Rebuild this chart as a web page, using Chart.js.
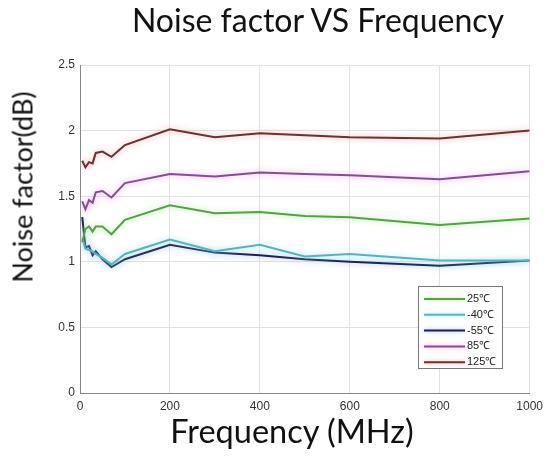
<!DOCTYPE html>
<html>
<head>
<meta charset="utf-8">
<script src="https://cdn.jsdelivr.net/npm/chart.js@4.4.1/dist/chart.umd.min.js"></script>
<style>
  html, body { margin: 0; padding: 0; background: #fff; }
  #wrap { position: relative; width: 549px; height: 457px; }
  .ttl { position: absolute; font-family: Lato, "Open Sans", sans-serif; color: #111; line-height: 1; white-space: nowrap; }
  #title { left: 318px; top: 4px; font-size: 32px; transform: translateX(-50%); }
  #xtitle { left: 292px; top: 415px; font-size: 32.5px; transform: translateX(-50%); }
  #ytitle { left: 22px; top: 187px; font-size: 27px; transform: translate(-50%, -50%) rotate(-90deg); }
</style>
</head>
<body>
<div id="wrap">
  <canvas id="chart" width="549" height="457"></canvas>
  <div class="ttl" id="title">Noise factor VS Frequency</div>
  <div class="ttl" id="xtitle">Frequency (MHz)</div>
  <div class="ttl" id="ytitle">Noise factor(dB)</div>
</div>
<script>
// measurement frequencies (MHz)
const freqs = [5, 12, 20, 28, 35, 50, 70, 100, 200, 300, 400, 500, 600, 800, 1000];

// noise factor (dB) per temperature
const nf25 = [1.15, 1.25, 1.27, 1.23, 1.27, 1.27, 1.21, 1.32, 1.43, 1.37, 1.38, 1.35, 1.34, 1.28, 1.33];
const nfMinus40 = [1.18, 1.10, 1.09, 1.08, 1.06, 1.03, 0.98, 1.06, 1.17, 1.08, 1.13, 1.04, 1.06, 1.01, 1.01];
const nfMinus55 = [1.34, 1.11, 1.12, 1.05, 1.08, 1.02, 0.96, 1.02, 1.13, 1.07, 1.05, 1.02, 1.00, 0.97, 1.01];
const nf85 = [1.46, 1.40, 1.47, 1.45, 1.53, 1.54, 1.49, 1.60, 1.67, 1.65, 1.68, 1.67, 1.66, 1.63, 1.69];
const nf125 = [1.77, 1.72, 1.76, 1.75, 1.83, 1.84, 1.80, 1.89, 2.01, 1.95, 1.98, 1.965, 1.95, 1.94, 2.00];

const seriesLabels = ["25℃", "-40℃", "-55℃", "85℃", "125℃"];
const seriesValues = [nf25, nfMinus40, nfMinus55, nf85, nf125];
const lineColors = ["#56a048", "#56b4be", "#1c2050", "#874c98", "#6e3030"];
const glowColors = ["#a8f098", "#9eeef4", "#9fb4ee", "#f0a0f0", "#f4a8a8"];

const toPoints = (vals) => freqs.map((f, i) => ({ x: f, y: vals[i] }));

// soft halo round each line, like the original jpeg
const glowPlugin = {
  id: "glow",
  beforeDatasetDraw(chart, args) {
    const ctx = chart.ctx;
    ctx.save();
    ctx.shadowColor = chart.data.datasets[args.index].glow;
    ctx.shadowBlur = 6;
  },
  afterDatasetDraw(chart) {
    chart.ctx.restore();
  },
};

// boxed legend in the lower right of the plot
const boxLegend = {
  id: "boxLegend",
  afterDatasetsDraw(chart) {
    const ctx = chart.ctx;
    const x = 418, y = 286, w = 84, h = 82;
    ctx.save();
    ctx.fillStyle = "#fff";
    ctx.fillRect(x, y, w, h);
    ctx.strokeStyle = "#777";
    ctx.lineWidth = 1;
    ctx.strokeRect(x + 0.5, y + 0.5, w, h);
    ctx.font = "11px 'Liberation Sans', Arial, sans-serif";
    ctx.textBaseline = "middle";
    chart.data.datasets.forEach((ds, i) => {
      const ly = y + 13 + i * 15.8;
      ctx.save();
      ctx.shadowColor = ds.glow;
      ctx.shadowBlur = 4;
      ctx.strokeStyle = ds.borderColor;
      ctx.lineWidth = 2;
      ctx.beginPath();
      ctx.moveTo(424, ly);
      ctx.lineTo(465, ly);
      ctx.stroke();
      ctx.restore();
      ctx.fillStyle = "#222";
      ctx.fillText(ds.label, 467, ly);
    });
    ctx.restore();
  },
};

const tickFont = { family: "'Liberation Sans', Arial, sans-serif", size: 12 };

const ctx = document.getElementById("chart").getContext("2d");
new Chart(ctx, {
  type: "line",
  data: {
    datasets: seriesLabels.map((label, i) => ({
      label: label,
      data: toPoints(seriesValues[i]),
      borderColor: lineColors[i],
      glow: glowColors[i],
      borderWidth: 2,
      pointRadius: 0,
      tension: 0,
      fill: false,
    })),
  },
  options: {
    responsive: false,
    animation: false,
    layout: { padding: { top: 65, right: 19, left: 0, bottom: 0 } },
    plugins: {
      legend: { display: false },
      tooltip: { enabled: false },
    },
    scales: {
      x: {
        type: "linear",
        min: 0,
        max: 1000,
        ticks: {
          stepSize: 200,
          padding: 6,
          color: "#333",
          font: tickFont,
          callback: (v) => String(v),
        },
        grid: { color: "#e2e2e2", tickLength: 0 },
        border: { color: "#888" },
        afterFit: (scale) => { scale.height = 64; },
      },
      y: {
        min: 0,
        max: 2.5,
        ticks: {
          stepSize: 0.5,
          padding: 5,
          color: "#333",
          font: tickFont,
          callback: (v) => String(v),
        },
        grid: { color: "#e2e2e2", tickLength: 0 },
        border: { color: "#888" },
        afterFit: (scale) => { scale.width = 80; },
      },
    },
  },
  plugins: [glowPlugin, boxLegend],
});
</script>
</body>
</html>
